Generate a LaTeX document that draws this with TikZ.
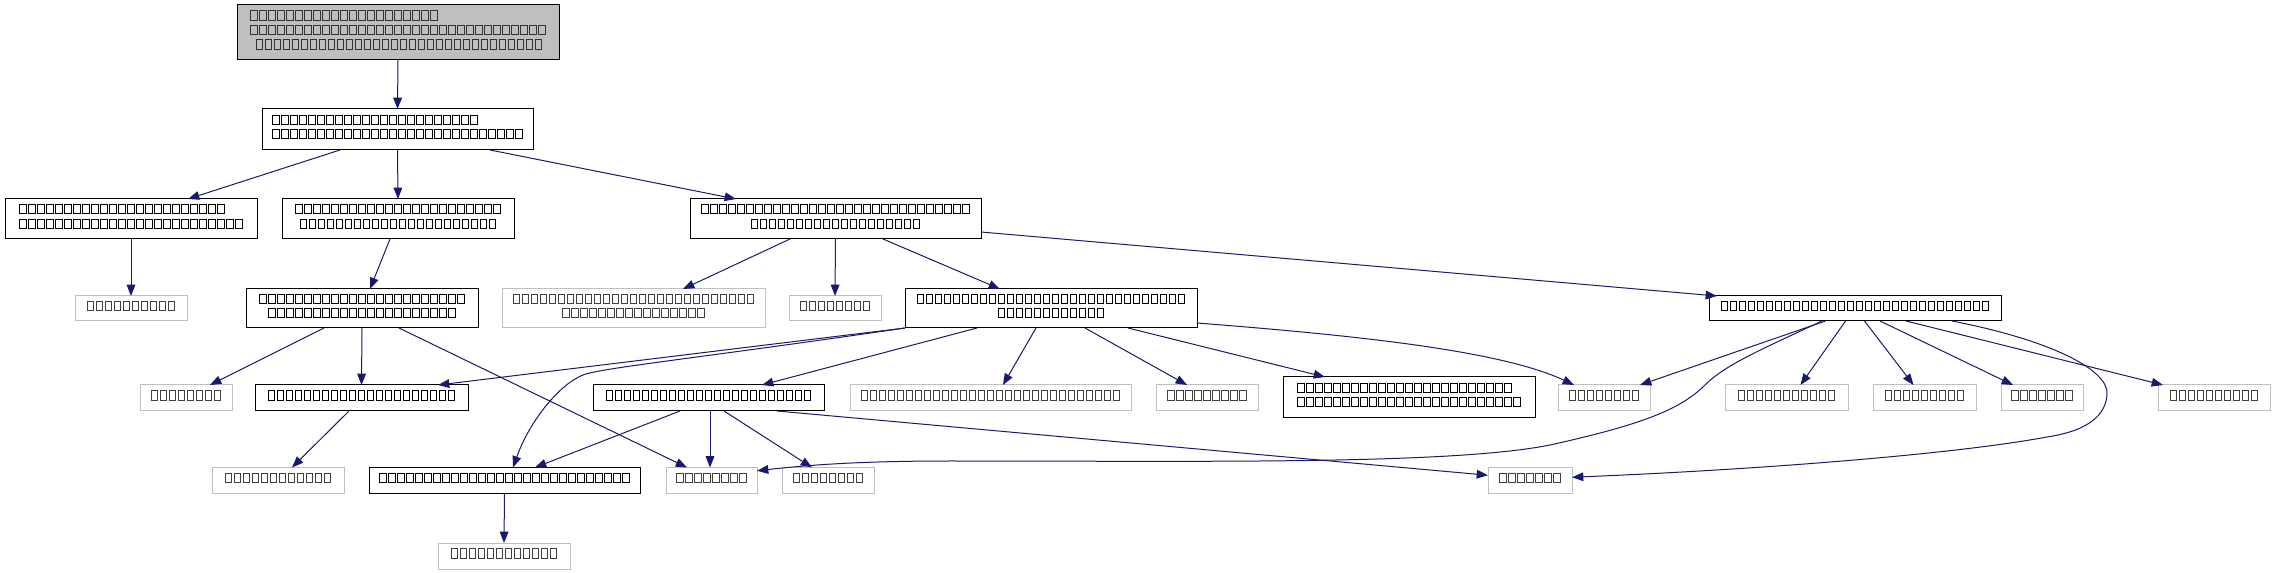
\documentclass[tikz,border=0pt]{standalone}
\usetikzlibrary{calc,arrows.meta}
\definecolor{edgeblue}{HTML}{191970}
\definecolor{lgray}{HTML}{BFBFBF}
\newcommand\tofubox{\kern0.6pt\begingroup\fboxsep=0pt\fboxrule=0.7pt\fbox{\rule{0pt}{6.2pt}\rule{4.15pt}{0pt}}\endgroup\kern0.6pt}
\newcount\tofucnt
\newcommand\tofus[1]{\tofucnt=#1\relax\loop\ifnum\tofucnt>0 \tofubox\advance\tofucnt by -1 \repeat}
\newcommand\lowstrut{\rule[-4.5pt]{0pt}{4.5pt}}
\newcommand\mknode[7]{\node[#6, minimum width={(#4-#2)*0.75pt}, minimum height={(#5-#3)*0.75pt}] (#1) at ({(#2+#4)/2},{(#3+#5)/2}) {#7};}
\begin{document}
\begin{tikzpicture}[x=0.75pt,y=-0.75pt,
  basebox/.style={line width=0.75pt, fill=white, inner sep=0pt, outer sep=0pt, font=\fontsize{8pt}{10.9pt}\selectfont},
  blk/.style={basebox, draw=black, text=black},
  gry/.style={basebox, draw=lgray, text=black!75},
  topbox/.style={basebox, draw=black, fill=lgray, text=black!80},
  edge/.style={draw=edgeblue, line width=0.75pt, -{Triangle[length=8.5pt,width=6.5pt]}}]
\fill[white] (0,0) rectangle (2275,573);
\useasboundingbox (0,0) rectangle (2275,573);
% nodes
\mknode{A}{237}{5}{559}{60}{topbox,align=left}{\tofus{21}\\\tofus{33}\\\hspace*{4pt}\tofus{32}\lowstrut}
\mknode{B}{262}{109}{533}{150}{blk,align=left}{\tofus{23}\\\tofus{28}\lowstrut}
\mknode{C}{5}{199}{257}{239}{blk,align=left}{\tofus{23}\\\tofus{25}\lowstrut}
\mknode{D}{282}{199}{514}{239}{blk,align=center}{\tofus{23}\\\tofus{22}\lowstrut}
\mknode{E}{690}{199}{981}{239}{blk,align=center}{\tofus{30}\\\tofus{19}\lowstrut}
\mknode{C1}{75}{296}{187}{321}{gry}{\tofus{10}\lowstrut}
\mknode{F}{246}{289}{478}{328}{blk,align=center}{\tofus{23}\\\tofus{21}\lowstrut}
\mknode{E1}{502}{289}{765}{328}{gry,align=center}{\tofus{27}\\\tofus{16}\lowstrut}
\mknode{E2}{789}{296}{881}{321}{gry}{\tofus{8}\lowstrut}
\mknode{G}{905}{289}{1197}{328}{blk,align=center}{\tofus{30}\\\tofus{12}\lowstrut}
\mknode{H}{1709}{296}{2001}{321}{blk}{\tofus{30}\lowstrut}
\mknode{R3a}{140}{385}{232}{411}{gry}{\tofus{8}\lowstrut}
\mknode{I}{255}{385}{468}{411}{blk}{\tofus{21}\lowstrut}
\mknode{J}{593}{385}{824}{411}{blk}{\tofus{23}\lowstrut}
\mknode{R3e}{850}{385}{1131}{411}{gry}{\tofus{29}\lowstrut}
\mknode{R3f}{1156}{385}{1258}{411}{gry}{\tofus{9}\lowstrut}
\mknode{K}{1283}{377}{1535}{418}{blk,align=left}{\tofus{24}\\\tofus{25}\lowstrut}
\mknode{R3g}{1558}{385}{1650}{411}{gry}{\tofus{8}\lowstrut}
\mknode{R3h}{1725}{385}{1848}{411}{gry}{\tofus{11}\lowstrut}
\mknode{R3i}{1873}{385}{1976}{411}{gry}{\tofus{9}\lowstrut}
\mknode{R3j}{2001}{385}{2083}{411}{gry}{\tofus{7}\lowstrut}
\mknode{R3k}{2158}{385}{2270}{411}{gry}{\tofus{10}\lowstrut}
\mknode{R4i}{212}{467.5}{344}{494}{gry}{\tofus{12}\lowstrut}
\mknode{L}{369}{467.5}{640}{494}{blk}{\tofus{28}\lowstrut}
\mknode{R4a}{666}{467.5}{757}{494}{gry}{\tofus{8}\lowstrut}
\mknode{R4b}{782}{467.5}{874}{494}{gry}{\tofus{8}\lowstrut}
\mknode{R4c}{1488}{467.5}{1572}{494}{gry}{\tofus{7}\lowstrut}
\mknode{R5}{438}{543}{570}{569}{gry}{\tofus{12}\lowstrut}
% edges
\draw[edge] (A.south) -- (B.north);
\draw[edge] ($(B.south)+(-57.5,0)$) -- ($(C.north)+(57,0)$);
\draw[edge] (B.south) -- (D.north);
\draw[edge] ($(B.south)+(92.5,0)$) -- ($(E.north)+(-99.5,0)$);
\draw[edge] (C.south) -- (C1.north);
\draw[edge] ($(D.south)+(-8,0)$) -- ($(F.north)+(8,0)$);
\draw[edge] ($(E.south)+(-45.5,0)$) -- ($(E1.north)+(49.5,0)$);
\draw[edge] (E.south) -- (E2.north);
\draw[edge] ($(E.south)+(47.5,0)$) -- ($(G.north)+(-51,0)$);
\draw[edge] ($(E.east)+(0,13)$) -- ($(H.north west)+(8,0)$);
\draw[edge] ($(F.south)+(-38,0)$) -- ($(R3a.north)+(24,0)$);
\draw[edge] (F.south) -- (I.north);
\draw[edge] ($(F.south)+(37,0)$) -- ($(R4a.north)+(-24.5,0)$);
\draw[edge] ($(I.south)+(-12.5,0)$) -- ($(R4i.north)+(14,0)$);
\draw[edge] (L.south) -- (R5.north);
\draw[edge] ($(J.south)+(-28.5,0)$) -- ($(L.north)+(30.5,0)$);
\draw[edge] ($(J.south)+(1.5,0)$) -- ($(R4a.north)+(-1.5,0)$);
\draw[edge] ($(J.south)+(15.5,0)$) -- ($(R4b.north)+(-16,0)$);
\draw[edge] ($(J.south)+(68.5,0)$) -- ($(R4c.west)+(0,-5.5)$);
\draw[edge] (G.south west) -- ($(I.north east)+(-30,0)$);
\draw[edge] (G.south west) .. controls (700,358) and (600,368) .. (583,375) .. controls (560,384) and (530,420) .. ($(L.north)+(8.5,0)$);
\draw[edge] ($(G.south)+(-74,0)$) -- ($(J.north)+(53.5,0)$);
\draw[edge] ($(G.south)+(-15,0)$) -- ($(R3e.north)+(12.5,0)$);
\draw[edge] ($(G.south)+(34,0)$) -- ($(R3f.north)+(-20,0)$);
\draw[edge] ($(G.south)+(77,0)$) -- ($(K.north)+(-84,0)$);
\draw[edge] ($(G.east)+(0,14.5)$) .. controls (1350,335) and (1500,350) .. ($(R3g.north)+(-30,0)$);
\draw[edge] ($(H.south)+(-29.5,0)$) -- ($(R3g.north)+(36,0)$);
\draw[edge] ($(H.south)+(-33,0)$) .. controls (1760,350) and (1725,365) .. (1705,385) .. controls (1680,410) and (1640,425) .. (1550,445) .. controls (1450,465) and (1200,461) .. (950,461) .. controls (850,461) and (800,466) .. ($(R4a.east)+(0,-10)$);
\draw[edge] ($(H.south)+(-9.5,0)$) -- ($(R3h.north)+(14,0)$);
\draw[edge] ($(H.south)+(9.5,0)$) -- ($(R3i.north)+(-11,0)$);
\draw[edge] ($(H.south)+(25,0)$) -- ($(R3j.north)+(-29,0)$);
\draw[edge] ($(H.south)+(51,0)$) -- ($(R3k.north)+(-51,0)$);
\draw[edge] ($(H.south)+(97,0)$) .. controls (2050,340) and (2110,370) .. (2107,395) .. controls (2105,420) and (2080,432) .. (2047,437) .. controls (1950,455) and (1750,470) .. ($(R4c.east)+(0,-3.5)$);
\end{tikzpicture}
\end{document}
